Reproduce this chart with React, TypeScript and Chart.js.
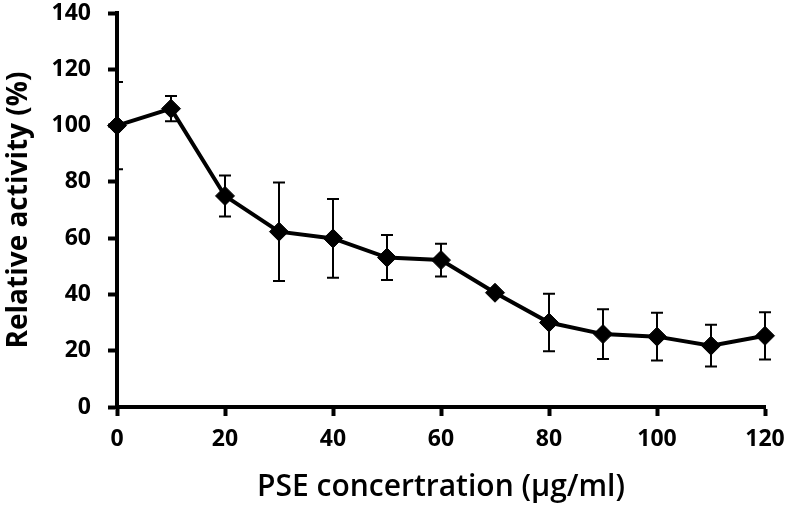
import React, { useEffect, useRef } from "react";
import { Chart, registerables } from "chart.js";

Chart.register(...registerables);

const concentrations = [0, 10, 20, 30, 40, 50, 60, 70, 80, 90, 100, 110, 120];
const activity = [100, 106, 75, 62.3, 59.9, 53.1, 52.2, 40.6, 30, 25.9, 25, 21.8, 25.3];
const errors = [15.5, 4.5, 7.3, 17.5, 14, 8, 5.8, 0, 10.2, 8.8, 8.5, 7.4, 8.4];
const xTicks = [0, 20, 40, 60, 80, 100, 120];
const yTicks = [0, 20, 40, 60, 80, 100, 120, 140];

const FONT = "'Open Sans', 'Noto Sans', sans-serif";

const errorBarPlugin = {
  id: "errorBars",
  beforeDatasetsDraw(chart: any) {
    const { ctx, chartArea, scales } = chart;
    const xs = scales.x;
    const ys = scales.y;
    ctx.save();
    ctx.beginPath();
    ctx.rect(chartArea.left, chartArea.top - 20, chartArea.right - chartArea.left + 20, chartArea.bottom - chartArea.top + 20);
    ctx.clip();
    ctx.strokeStyle = "#000";
    ctx.lineWidth = 2;
    concentrations.forEach((c, i) => {
      const e = errors[i];
      if (!e) return;
      const px = xs.getPixelForValue(c);
      const top = ys.getPixelForValue(activity[i] + e);
      const bot = ys.getPixelForValue(activity[i] - e);
      const cap = 6;
      ctx.beginPath();
      ctx.moveTo(px, top);
      ctx.lineTo(px, bot);
      ctx.moveTo(px - cap, top);
      ctx.lineTo(px + cap, top);
      ctx.moveTo(px - cap, bot);
      ctx.lineTo(px + cap, bot);
      ctx.stroke();
    });
    ctx.restore();
  },
};

export default function App() {
  const ref = useRef<HTMLCanvasElement>(null);
  useEffect(() => {
    document.body.style.margin = "0";
    const chart = new Chart(ref.current!, {
      type: "line",
      data: {
        datasets: [
          {
            data: concentrations.map((c, i) => ({ x: c, y: activity[i] })),
            borderColor: "#000",
            backgroundColor: "#000",
            borderWidth: 4,
            pointStyle: "rectRot",
            pointRadius: 9.5,
            pointBackgroundColor: "#000",
            pointBorderColor: "#000",
            pointBorderWidth: 1,
            tension: 0,
            clip: false as any,
          },
        ],
      },
      options: {
        animation: false,
        responsive: false,
        maintainAspectRatio: false,
        layout: { padding: { top: 13, right: 26, left: 0, bottom: 0 } },
        plugins: { legend: { display: false }, tooltip: { enabled: false } },
        scales: {
          x: {
            type: "linear",
            min: 0,
            max: 120,
            afterBuildTicks: (s: any) => {
              s.ticks = xTicks.map((v) => ({ value: v }));
            },
            afterFit: (s: any) => {
              s.height = 102;
              s.paddingLeft = 0;
              s.paddingRight = 0;
            },
            grid: { drawOnChartArea: false, tickLength: 9, tickWidth: 4, tickColor: "#000" },
            border: { color: "#000", width: 4 },
            ticks: {
              color: "#000",
              padding: 10,
              font: { family: FONT, size: 23, weight: "bold" },
            },
            title: {
              display: true,
              text: "PSE concertration (µg/ml)",
              color: "#000",
              font: { family: FONT, size: 30, weight: "600" },
              padding: { top: 2 },
            },
          },
          y: {
            type: "linear",
            min: 0,
            max: 140,
            afterBuildTicks: (s: any) => {
              s.ticks = yTicks.map((v) => ({ value: v }));
            },
            afterFit: (s: any) => {
              s.width = 117;
              s.paddingTop = 0;
              s.paddingBottom = 0;
            },
            grid: { drawOnChartArea: false, tickLength: 9, tickWidth: 4, tickColor: "#000" },
            border: { color: "#000", width: 4 },
            ticks: {
              color: "#000",
              padding: 17,
              font: { family: FONT, size: 23, weight: "bold" },
            },
            title: {
              display: true,
              text: "Relative activity (%)",
              color: "#000",
              font: { family: FONT, size: 28, weight: "bold" },
              padding: { top: 2, bottom: 0 },
            },
          },
        },
      },
      plugins: [errorBarPlugin],
    });
    return () => chart.destroy();
  }, []);
  return (
    <div style={{ position: "absolute", left: 0, top: 0, width: 791, height: 509 }}>
      <canvas ref={ref} width={791} height={509} style={{ width: 791, height: 509 }} />
    </div>
  );
}
